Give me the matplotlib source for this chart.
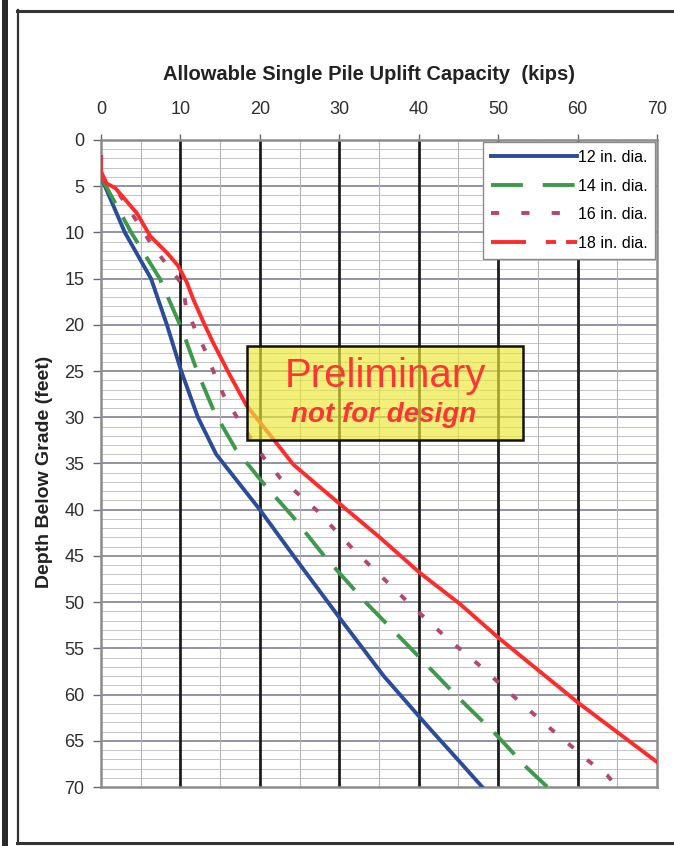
import matplotlib
matplotlib.use("Agg")
import matplotlib.pyplot as plt
from matplotlib.lines import Line2D
from matplotlib.patches import Rectangle

plt.rcParams['font.family'] = ['Liberation Sans', 'DejaVu Sans']

# depth (ft) vs allowable uplift capacity (kips) for each pile diameter
depth_12 = [4, 10, 15, 20, 25, 30, 34, 40, 46, 52, 58, 63.5, 67.5, 70]
cap_12 = [0, 3.0, 6.3, 8.3, 10.1, 12.2, 14.5, 20.0, 25.1, 30.3, 35.6, 41.2, 45.4, 48.0]

depth_14 = [4, 10, 15, 20.5, 25, 29.5, 33.5, 37.2, 40.8, 45, 50, 55, 60, 64.2, 67.9, 70]
cap_14 = [0, 3.8, 7.4, 10.2, 12.1, 14.3, 17.0, 20.5, 24.2, 28.1, 33.3, 39.0, 44.6, 49.6, 53.6, 56.2]

depth_16 = [4, 6, 9.3, 11.5, 13.6, 15.7, 18.1, 20.6, 23.1, 25.6, 27.9, 30.1, 34.5, 36.6,
            40.1, 42.4, 44.5, 46.4, 48.3, 50.3, 52.2, 54.1, 55.9, 57.8, 59.7, 61.6, 63.4,
            65.2, 67.0, 68.7, 70]
cap_16 = [0, 2.4, 4.9, 6.5, 8.4, 10.3, 10.7, 11.9, 13.3, 14.4, 15.6, 17.2, 20.6, 22.6,
          27.2, 29.7, 32.0, 34.3, 36.6, 39.0, 41.4, 43.8, 46.4, 48.9, 51.3, 53.8, 56.2,
          58.7, 61.1, 63.7, 65.0]

depth_18 = [1.8, 3.4, 4.7, 5.2, 7.9, 10.4, 12.2, 13.6, 15.4, 17.2, 19.9, 21.9, 25.4, 28.7,
            31.5, 35.1, 37.3, 39.4, 43.0, 46.8, 50.2, 53.9, 60.9, 67.3]
cap_18 = [0, 0, 0.7, 1.8, 4.5, 6.2, 8.3, 9.7, 10.8, 11.6, 13.0, 14.1, 16.2, 18.3,
          20.9, 24.2, 27.2, 30.1, 35.1, 40.1, 45.2, 50.1, 60.1, 70.0]

labels = ['12 in. dia.', '14 in. dia.', '16 in. dia.', '18 in. dia.']
colors = ['#2B4C9B', '#3C9A4A', '#B5476F', '#FF2B2B']

fig = plt.figure(figsize=(6.74, 8.46), dpi=100)
ax = fig.add_axes([101 / 674, 1 - 787 / 846, 556 / 674, 647 / 846])

ax.set_xlim(0, 70)
ax.set_ylim(70, 0)

# grid: 1 ft / 5 ft horizontals, 5 kip / 10 kip verticals
for d in range(1, 70):
    if d % 5:
        ax.axhline(d, color='#c4c4c4', lw=0.7, zorder=0)
for d in range(5, 70, 5):
    ax.axhline(d, color='#8a8a9c', lw=1.3, zorder=0.5)
for c in range(5, 70, 10):
    ax.axvline(c, color='#b4b4b4', lw=0.8, zorder=0.5)
for c in range(10, 70, 10):
    ax.axvline(c, color='#1e1e1e', lw=2.0, zorder=0.6)

lw = 2.8
ax.plot(cap_12, depth_12, color=colors[0], lw=lw, zorder=3)
ax.plot(cap_14, depth_14, color=colors[1], lw=lw, dashes=(7.7, 4.1), zorder=3)
ax.plot(cap_16, depth_16, color=colors[2], lw=lw, dashes=(1.8, 4.6), zorder=3)
ax.plot(cap_18, depth_18, color=colors[3], lw=lw, zorder=3)

# legend uses the original line patterns
handles = [
    Line2D([], [], color=colors[0], lw=lw),
    Line2D([], [], color=colors[1], lw=lw, dashes=(8.2, 5.1)),
    Line2D([], [], color=colors[2], lw=lw, dashes=(2.1, 5.7)),
    Line2D([], [], color=colors[3], lw=lw, dashes=(9.0, 5.1, 2.6, 2.6)),
]
leg = ax.legend(handles, labels, loc='upper right', bbox_to_anchor=(0.997, 0.997),
                fontsize=11.5, handlelength=5.4, handletextpad=0.05, labelspacing=0.85,
                borderpad=0.5, borderaxespad=0.0, fancybox=False, framealpha=1,
                edgecolor='#8a8a8a')
leg.get_frame().set_linewidth(1.0)
leg.set_zorder(5)

# warning box
ax.add_patch(Rectangle((18.4, 22.3), 34.7, 10.2, facecolor='#ECE836', alpha=0.66,
                       edgecolor='none', zorder=4))
ax.add_patch(Rectangle((18.4, 22.3), 34.7, 10.2, facecolor='none',
                       edgecolor='#111111', lw=1.8, zorder=4.1))
ax.text(35.8, 25.5, 'Preliminary', color='#FF3535', fontsize=29,
        ha='center', va='center', zorder=4.2)
ax.text(35.6, 29.7, 'not for design', color='#FF3535', fontsize=20,
        fontweight='bold', fontstyle='italic', ha='center', va='center', zorder=4.2)

ax.xaxis.tick_top()
ax.set_xticks(range(0, 71, 10))
ax.set_yticks(range(0, 71, 5))
ax.tick_params(axis='x', length=4, width=1, color='#666666', pad=12,
               labelsize=13, labelcolor='#2e2e2e')
ax.tick_params(axis='y', length=6, width=1, color='#666666', pad=6,
               labelsize=13, labelcolor='#2e2e2e')
for s in ax.spines.values():
    s.set_color('#8c8c8c')
    s.set_linewidth(1.8)

fig.text(369 / 674, 1 - 75 / 846, 'Allowable Single Pile Uplift Capacity  (kips)',
         ha='center', va='center', fontsize=14.5, fontweight='bold', color='#222222')
fig.text(45 / 674, 1 - 472 / 846, 'Depth Below Grade (feet)', rotation=90,
         ha='center', va='center', fontsize=14, fontweight='bold', color='#222222')

# page frame
fig.add_artist(Rectangle((2 / 674, 0), 6 / 674, 1, transform=fig.transFigure,
                         facecolor='#2a2a2a', edgecolor='none'))
fig.add_artist(Line2D([17.5 / 674, 17.5 / 674], [1 - 10 / 846, 1 - 844 / 846],
                      transform=fig.transFigure, color='#333333', lw=1.6))
fig.add_artist(Line2D([17 / 674, 1], [1 - 11 / 846, 1 - 11 / 846],
                      transform=fig.transFigure, color='#333333', lw=2.2))
fig.add_artist(Line2D([17 / 674, 1], [1 - 843 / 846, 1 - 843 / 846],
                      transform=fig.transFigure, color='#333333', lw=2.2))

fig.savefig('out.png', dpi=100)
